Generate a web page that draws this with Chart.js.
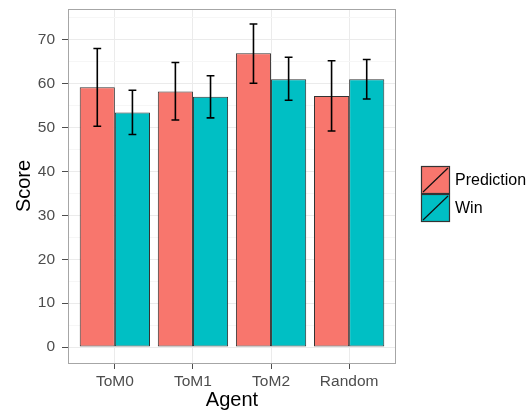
<!DOCTYPE html>
<html>
<head>
<meta charset="utf-8">
<title>Score by Agent</title>
<script src="https://cdn.jsdelivr.net/npm/chart.js@4.4.1/dist/chart.umd.min.js"></script>
<style>
  html,body{margin:0;padding:0;background:#fff;}
  #wrap{width:531px;height:412px;position:relative;}
</style>
</head>
<body>
<div id="wrap"><canvas id="scoreChart"></canvas></div>
<script>
var AGENTS = ['ToM0', 'ToM1', 'ToM2', 'Random'];
var SERIES = ['Prediction', 'Win'];
var PREDICTION = [59.2, 58.2, 66.9, 57.2];
var PREDICTION_LO = [50.3, 51.7, 60.1, 49.2];
var PREDICTION_HI = [68.0, 64.8, 73.6, 65.2];
var WIN = [53.4, 57.0, 61.0, 61.0];
var WIN_LO = [48.4, 52.2, 56.2, 56.5];
var WIN_HI = [58.5, 61.8, 66.0, 65.5];
var Y_TICKS = [0, 10, 20, 30, 40, 50, 60, 70];
var Y_MINOR = [5, 15, 25, 35, 45, 55, 65, 75];
var COLORS = ['#F8766D', '#00BFC4'];

(function() {
  Chart.defaults.font.family = '"Liberation Sans", Arial, sans-serif';

  function toPoints(vals) {
    return vals.map(function(v, i) { return {x: i + 1, y: v}; });
  }

  function isMajor(v) { return Y_TICKS.indexOf(v) !== -1; }

  /* error bars drawn on top of the bars */
  var errorBars = {
    id: 'errorBars',
    afterDatasetsDraw: function(chart) {
      var ctx = chart.ctx, ys = chart.scales.y, xs = chart.scales.x;
      var half = xs.getPixelForValue(1.05) - xs.getPixelForValue(1);
      ctx.save();
      ctx.strokeStyle = '#000';
      ctx.lineWidth = 1.6;
      chart.data.datasets.forEach(function(ds, di) {
        var meta = chart.getDatasetMeta(di);
        meta.data.forEach(function(bar, i) {
          var top = ys.getPixelForValue(ds.errHi[i]);
          var bot = ys.getPixelForValue(ds.errLo[i]);
          ctx.beginPath();
          ctx.moveTo(bar.x, top); ctx.lineTo(bar.x, bot);
          ctx.moveTo(bar.x - half, top); ctx.lineTo(bar.x + half, top);
          ctx.moveTo(bar.x - half, bot); ctx.lineTo(bar.x + half, bot);
          ctx.stroke();
        });
      });
      /* panel border */
      var a = chart.chartArea;
      ctx.strokeStyle = '#a6a6a6';
      ctx.lineWidth = 1;
      ctx.strokeRect(Math.round(a.left) + 0.5, Math.round(a.top) + 0.5,
        Math.round(a.right - a.left) - 1, Math.round(a.bottom - a.top));
      ctx.restore();
    }
  };

  /* ggplot-style legend: filled keys crossed by a diagonal */
  var keyLegend = {
    id: 'keyLegend',
    afterDraw: function(chart) {
      var ctx = chart.ctx;
      var x0 = 421, y0 = 166, w = 29, h = 28;
      ctx.save();
      chart.data.datasets.forEach(function(ds, i) {
        var y = y0 + i * h;
        ctx.fillStyle = ds.backgroundColor;
        ctx.fillRect(x0, y, w, h);
        ctx.strokeStyle = '#333';
        ctx.lineWidth = 1.2;
        ctx.strokeRect(x0 + 0.5, y + 0.5, w - 1, h - 1);
        ctx.beginPath();
        ctx.moveTo(x0 + 2, y + h - 2);
        ctx.lineTo(x0 + w - 2, y + 2);
        ctx.strokeStyle = '#111';
        ctx.stroke();
        ctx.fillStyle = '#000';
        ctx.font = '16px "Liberation Sans", Arial, sans-serif';
        ctx.textBaseline = 'middle';
        ctx.textAlign = 'left';
        ctx.fillText(ds.label, x0 + w + 5, y + h / 2 + 1);
      });
      ctx.restore();
    }
  };

  new Chart(document.getElementById('scoreChart'), {
    type: 'bar',
    data: {
      datasets: [
        {label: SERIES[0], data: toPoints(PREDICTION), errLo: PREDICTION_LO, errHi: PREDICTION_HI,
         backgroundColor: COLORS[0], borderColor: '#333', borderWidth: 1, borderSkipped: false},
        {label: SERIES[1], data: toPoints(WIN), errLo: WIN_LO, errHi: WIN_HI,
         backgroundColor: COLORS[1], borderColor: '#333', borderWidth: 1, borderSkipped: false}
      ]
    },
    options: {
      responsive: true, maintainAspectRatio: false, animation: false,
      categoryPercentage: 0.9, barPercentage: 1.0,
      layout: {padding: {left: 0, top: 9, right: 135, bottom: 0}},
      plugins: {legend: {display: false}, tooltip: {enabled: false}},
      scales: {
        x: {
          type: 'linear', min: 0.4, max: 4.6, offset: false,
          afterBuildTicks: function(s) { s.ticks = AGENTS.map(function(_, i) { return {value: i + 1}; }); },
          afterFit: function(s) { s.height = 49; s.paddingLeft = 0; s.paddingRight = 0; },
          grid: {offset: false, color: '#ebebeb', tickColor: '#4d4d4d', tickLength: 6},
          border: {display: false},
          ticks: {
            autoSkip: false, maxRotation: 0, padding: 3, color: '#4d4d4d', font: {size: 15.5},
            callback: function(v) { return AGENTS[v - 1]; }
          },
          title: {display: true, text: 'Agent', color: '#000', font: {size: 20}, padding: {top: 0, bottom: 0}}
        },
        y: {
          min: -3.64, max: 77.0, bounds: 'data',
          afterBuildTicks: function(s) {
            s.ticks = Y_TICKS.concat(Y_MINOR).sort(function(a, b) { return a - b; })
              .map(function(v) { return {value: v}; });
          },
          afterFit: function(s) { s.width = 68; s.paddingTop = 0; s.paddingBottom = 0; },
          grid: {
            tickLength: 6,
            color: function(c) { return isMajor(c.tick.value) ? '#ebebeb' : '#f6f6f6'; },
            tickColor: function(c) { return isMajor(c.tick.value) ? '#4d4d4d' : 'rgba(0,0,0,0)'; }
          },
          border: {display: false},
          ticks: {
            padding: 7, color: '#4d4d4d', font: {size: 15.5},
            callback: function(v) { return isMajor(v) ? String(v) : ''; }
          },
          title: {display: true, text: 'Score', color: '#000', font: {size: 20}, padding: {top: 12, bottom: 0}}
        }
      }
    },
    plugins: [errorBars, keyLegend]
  });
})();
</script>
</body>
</html>
